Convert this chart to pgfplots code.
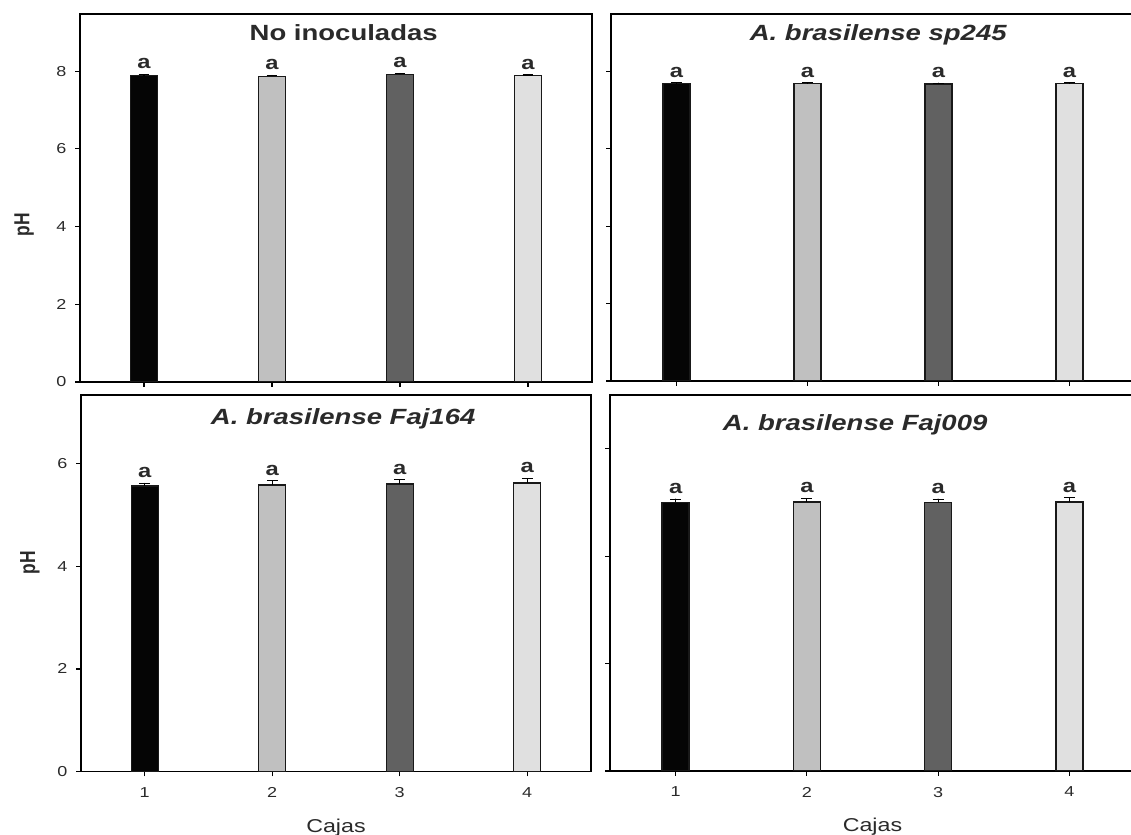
\documentclass[border=0pt]{standalone}
\usepackage{fontspec}
\setmainfont{Liberation Sans}[FakeStretch=1.25]
\newfontfamily\plainsans{Liberation Sans}
\usepackage{pgfplots}
\pgfplotsset{compat=1.18}

\definecolor{barA}{HTML}{050505}
\definecolor{barB}{HTML}{C0C0C0}
\definecolor{barC}{HTML}{616161}
\definecolor{barD}{HTML}{E0E0E0}
\definecolor{txt}{HTML}{2A2A2A}

\pgfplotsset{
  every axis title shift=0pt,
  panel/.style={
    scale only axis, anchor=south west,
    xmin=0.5, xmax=4.5, ymin=0,
    xtick={1,2,3,4},
    tick pos=left, tick align=outside,
    major tick length=2.3pt,
    every tick/.style={black, line width=0.6pt},
    axis line style={line width=0.8pt, black},
    /pgf/number format/assume math mode=true,
    ticklabel style={font=\fontsize{7.2}{8}\selectfont, text=txt},
    xticklabel style={yshift=-2.2pt},
    yticklabel style={xshift=-1pt},
    every axis y label/.style={rotate=90, anchor=center, text=txt},
    every axis x label/.style={at={(axis description cs:0.5,0)}, anchor=base, yshift=-30.5pt, font=\fontsize{9.3}{10}\selectfont, text=txt},
  },
  bar/.style={ybar, bar width=13.5pt, bar shift=0pt, fill=#1, draw=black!90, line width=0.65pt,
    error bars/.cd, y dir=plus, y explicit,
    error bar style={black, line width=0.6pt},
    error mark options={rotate=90, black, mark size=2.7pt, line width=0.6pt}},
  lab/.style={only marks, mark=*, mark size=0.01pt, mark options={draw=none, fill=none},
    nodes near coords={a},
    every node near coord/.style={anchor=south, inner sep=0pt, yshift=2.6pt, text=txt,
      font=\fontsize{9.5}{10}\selectfont\bfseries}},
}

\begin{document}
\begin{tikzpicture}
\useasboundingbox (0,0) rectangle (565.5pt,417.5pt);
\clip (0,0) rectangle (565.5pt,417.5pt);

% Top left
\begin{axis}[panel, at={(40pt,226.5pt)}, width=256pt, height=184pt,
  ymax=9.47, ytick={0,2,4,6,8}, xticklabels={},
  ylabel={\scalebox{1}[1.25]{\plainsans\bfseries\fontsize{8.7}{10}\selectfont pH}},
  ylabel style={at={(axis description cs:-0.109,0.427)}},
  title={No inoculadas},
  title style={at={(axis description cs:0.515,1)}, anchor=base, yshift=-13.35pt,
    font=\fontsize{11}{13}\selectfont\bfseries, text=txt}]
\addplot[bar=barA] coordinates {(1,7.89) +- (0,0.02)};
\addplot[bar=barB] coordinates {(2,7.87) +- (0,0.02)};
\addplot[bar=barC] coordinates {(3,7.92) +- (0,0.02)};
\addplot[bar=barD] coordinates {(4,7.88) +- (0,0.02)};
\addplot[lab] coordinates {(1,7.91) (2,7.89) (3,7.94) (4,7.90)};
\end{axis}

% Top right
\begin{axis}[panel, at={(305.5pt,227pt)}, width=262pt, height=183.5pt,
  ymax=9.48, ytick={0,2,4,6,8}, xticklabels={}, yticklabels={},
  title={A. brasilense sp245},
  title style={at={(axis description cs:0.51,1)}, anchor=base, yshift=-13.35pt,
    font=\fontsize{11}{13}\selectfont\bfseries\itshape, text=txt}]
\addplot[bar=barA] coordinates {(1,7.68) +- (0,0.02)};
\addplot[bar=barB] coordinates {(2,7.68) +- (0,0.02)};
\addplot[bar=barC] coordinates {(3,7.67) +- (0,0.02)};
\addplot[bar=barD] coordinates {(4,7.68) +- (0,0.02)};
\addplot[lab] coordinates {(1,7.70) (2,7.70) (3,7.69) (4,7.70)};
\end{axis}

% Bottom left
\begin{axis}[panel, at={(40.5pt,31.65pt)}, width=255pt, height=188.35pt,
  ymax=7.33, ytick={0,2,4,6},
  xlabel={Cajas},
  ylabel={\scalebox{1}[1.25]{\plainsans\bfseries\fontsize{8.7}{10}\selectfont pH}},
  ylabel style={at={(axis description cs:-0.1,0.554)}},
  title={A. brasilense Faj164},
  title style={at={(axis description cs:0.514,1)}, anchor=base, yshift=-15pt,
    font=\fontsize{11}{13}\selectfont\bfseries\itshape, text=txt}]
\addplot[bar=barA] coordinates {(1,5.56) +- (0,0.05)};
\addplot[bar=barB] coordinates {(2,5.58) +- (0,0.08)};
\addplot[bar=barC] coordinates {(3,5.60) +- (0,0.08)};
\addplot[bar=barD] coordinates {(4,5.62) +- (0,0.08)};
\addplot[lab] coordinates {(1,5.61) (2,5.66) (3,5.68) (4,5.70)};
\end{axis}

% Bottom right
\begin{axis}[panel, at={(305pt,32pt)}, width=262.5pt, height=188pt,
  ymax=7.0, ytick={0,2,4,6}, yticklabels={},
  xlabel={Cajas},
  title={A. brasilense Faj009},
  title style={at={(axis description cs:0.467,1)}, anchor=base, yshift=-17.85pt,
    font=\fontsize{11}{13}\selectfont\bfseries\itshape, text=txt}]
\addplot[bar=barA] coordinates {(1,5.00) +- (0,0.06)};
\addplot[bar=barB] coordinates {(2,5.01) +- (0,0.06)};
\addplot[bar=barC] coordinates {(3,5.00) +- (0,0.06)};
\addplot[bar=barD] coordinates {(4,5.01) +- (0,0.075)};
\addplot[lab] coordinates {(1,5.06) (2,5.07) (3,5.06) (4,5.085)};
\end{axis}
\end{tikzpicture}
\end{document}
